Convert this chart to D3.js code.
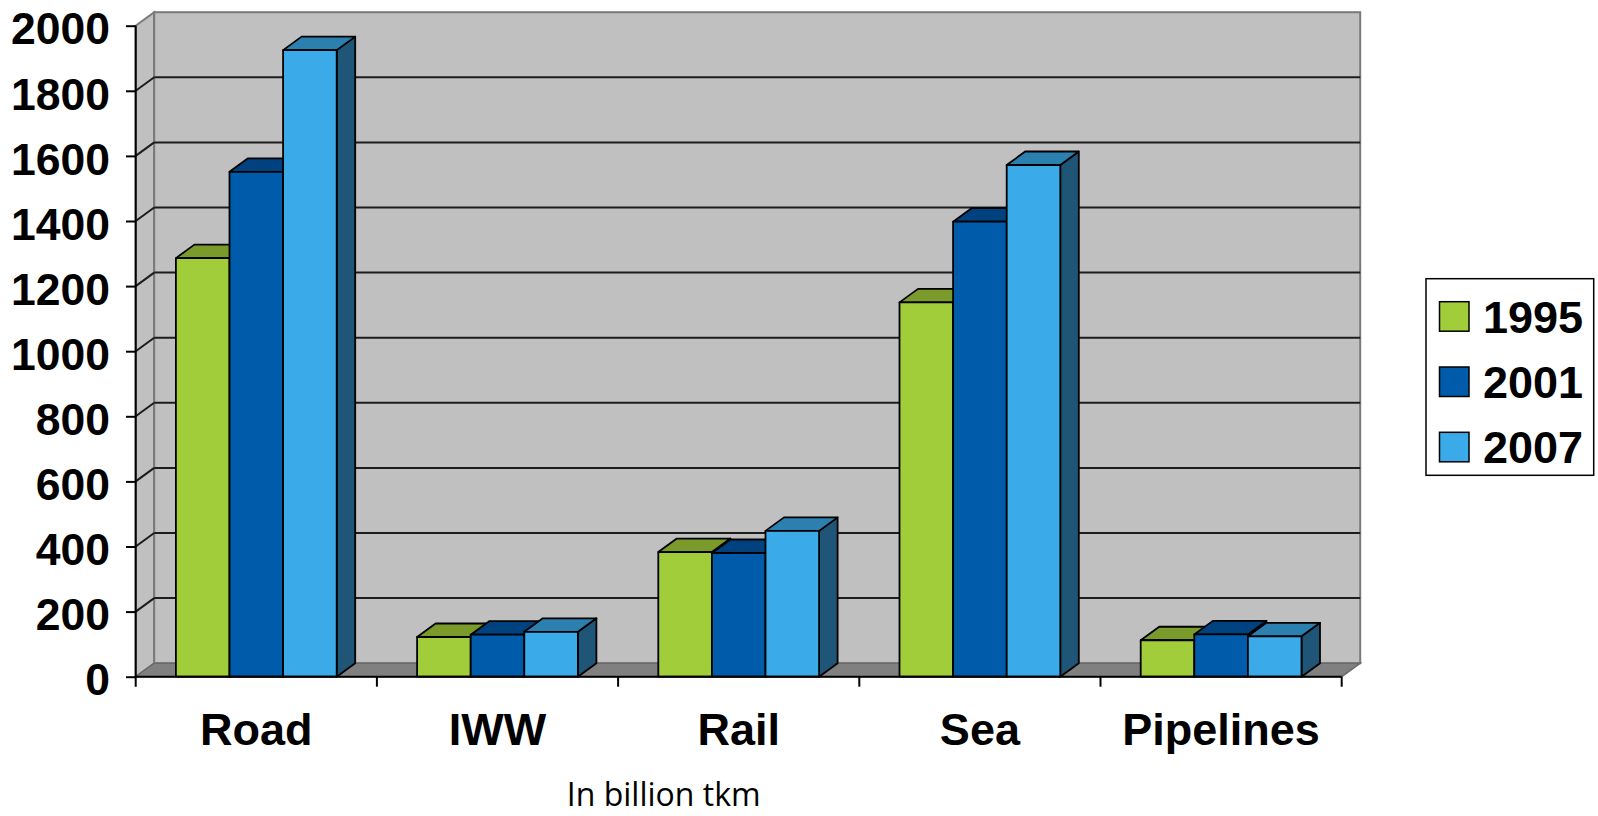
<!DOCTYPE html>
<html>
<head>
<meta charset="utf-8">
<script src="https://cdn.jsdelivr.net/npm/d3@7"></script>
<style>
  html, body { margin: 0; padding: 0; background: #fff; }
  svg { display: block; }
</style>
</head>
<body>
<svg id="chart" width="1598" height="816"></svg>
<script>
const categories = ["Road", "IWW", "Rail", "Sea", "Pipelines"];
const seriesNames = ["1995", "2001", "2007"];
const values1995 = [1286, 122, 383, 1150, 112];
const values2001 = [1551, 129, 380, 1398, 130];
const values2007 = [1925, 138, 448, 1572, 124];
const yTicks = [0, 200, 400, 600, 800, 1000, 1200, 1400, 1600, 1800, 2000];
const axisNote = "In billion tkm";

const seriesValues = [values1995, values2001, values2007];
const colors = {
  front: ["#A2CD3B", "#005BAA", "#3BAAE8"],
  top:   ["#7A9B2C", "#00427F", "#2B80B0"],
  side:  ["#5E7A22", "#003262", "#1F5577"]
};

const svg = d3.select("#chart");
const X0 = 135.7, X1 = 1341.7, Y0 = 676.7, Ytop = 25.7;
const DX = 18.5, DY = 13.5;

const y = d3.scaleLinear().domain([0, 2000]).range([Y0, Ytop]);
const x = d3.scaleBand().domain(categories).range([X0, X1]).paddingInner(0).paddingOuter(0);
const xs = d3.scaleBand().domain(seriesNames).range([0, x.bandwidth()]).paddingInner(0).paddingOuter(0.75);

const wallFill = "#C0C0C0", wallStroke = "#7A7A7A";

// left side wall
svg.append("polygon")
  .attr("points", [[X0, Y0], [X0, y(2000)], [X0 + DX, y(2000) - DY], [X0 + DX, Y0 - DY]].join(" "))
  .attr("fill", wallFill).attr("stroke", wallStroke).attr("stroke-width", 2);
// back wall
svg.append("rect")
  .attr("x", X0 + DX).attr("y", y(2000) - DY)
  .attr("width", X1 - X0).attr("height", Y0 - y(2000))
  .attr("fill", wallFill).attr("stroke", wallStroke).attr("stroke-width", 2);

// gridlines
const grid = yTicks.filter(v => v > 0 && v < 2000);
svg.append("g").selectAll("line.back").data(grid).join("line")
  .attr("x1", X0 + DX).attr("x2", X1 + DX)
  .attr("y1", d => y(d) - DY).attr("y2", d => y(d) - DY)
  .attr("stroke", "#1c1c1c").attr("stroke-width", 2);
svg.append("g").selectAll("line.side").data(grid).join("line")
  .attr("x1", X0).attr("x2", X0 + DX)
  .attr("y1", d => y(d)).attr("y2", d => y(d) - DY)
  .attr("stroke", "#1c1c1c").attr("stroke-width", 2);

// floor
svg.append("polygon")
  .attr("points", [[X0, Y0], [X1, Y0], [X1 + DX, Y0 - DY], [X0 + DX, Y0 - DY]].join(" "))
  .attr("fill", "#808080").attr("stroke", "#6a6a6a").attr("stroke-width", 1.5);

// bars
const bw = xs.bandwidth();
const bars = svg.append("g");
categories.forEach((cat, ci) => {
  seriesNames.forEach((s, si) => {
    const v = seriesValues[si][ci];
    const bx = x(cat) + xs(s);
    const by = y(v);
    const g = bars.append("g").attr("stroke", "#000").attr("stroke-width", 1.8).attr("stroke-linejoin", "round");
    g.append("polygon")
      .attr("points", [[bx + bw, Y0], [bx + bw, by], [bx + bw + DX, by - DY], [bx + bw + DX, Y0 - DY]].join(" "))
      .attr("fill", colors.side[si]);
    g.append("polygon")
      .attr("points", [[bx, by], [bx + bw, by], [bx + bw + DX, by - DY], [bx + DX, by - DY]].join(" "))
      .attr("fill", colors.top[si]);
    g.append("rect")
      .attr("x", bx).attr("y", by).attr("width", bw).attr("height", Y0 - by)
      .attr("fill", colors.front[si]);
  });
});

// y axis
const yAxis = d3.axisLeft(y).tickValues(yTicks).tickFormat(d3.format("d"))
  .tickSize(9.7).tickSizeOuter(0).tickPadding(16);
const gy = svg.append("g").attr("transform", `translate(${X0},0)`).call(yAxis);
gy.select(".domain").remove();
gy.selectAll(".tick line").attr("stroke", "#000").attr("stroke-width", 2);
gy.selectAll(".tick text")
  .attr("font-family", "'Liberation Sans', Arial, sans-serif")
  .attr("font-weight", "bold").attr("font-size", 44.5).attr("fill", "#000")
  .attr("dy", "0.41em");
svg.append("line").attr("x1", X0).attr("x2", X0).attr("y1", y(2000)).attr("y2", Y0 + 10)
  .attr("stroke", "#000").attr("stroke-width", 2);

// x axis
const xAxis = d3.axisBottom(x).tickSize(0).tickPadding(36);
const gx = svg.append("g").attr("transform", `translate(0,${Y0})`).call(xAxis);
gx.select(".domain").remove();
gx.selectAll(".tick text")
  .attr("font-family", "'Liberation Sans', Arial, sans-serif")
  .attr("font-weight", "bold").attr("font-size", 45).attr("fill", "#000");
svg.append("line").attr("x1", X0).attr("x2", X1).attr("y1", Y0).attr("y2", Y0)
  .attr("stroke", "#000").attr("stroke-width", 2);
const boundaries = categories.map(c => x(c) + x.bandwidth());
svg.append("g").selectAll("line").data(boundaries).join("line")
  .attr("x1", d => d).attr("x2", d => d).attr("y1", Y0).attr("y2", Y0 + 10)
  .attr("stroke", "#000").attr("stroke-width", 2);

// note
svg.append("text").attr("x", 663.7).attr("y", 805.5).attr("text-anchor", "middle")
  .attr("font-family", "'Open Sans', sans-serif").attr("font-size", 32).attr("fill", "#000")
  .text(axisNote);

// legend
const lg = svg.append("g");
lg.append("rect").attr("x", 1426).attr("y", 278.7).attr("width", 167.7).attr("height", 196.6)
  .attr("fill", "#fff").attr("stroke", "#000").attr("stroke-width", 1.5);
seriesNames.forEach((s, i) => {
  const yy = 301.7 + i * 65.3;
  lg.append("rect").attr("x", 1439.5).attr("y", yy).attr("width", 29.5).attr("height", 29.5)
    .attr("fill", colors.front[i]).attr("stroke", "#000").attr("stroke-width", 1.5);
  lg.append("text").attr("x", 1483).attr("y", yy + 31)
    .attr("font-family", "'Liberation Sans', Arial, sans-serif")
    .attr("font-weight", "bold").attr("font-size", 45).attr("fill", "#000")
    .text(s);
});
</script>
</body>
</html>
